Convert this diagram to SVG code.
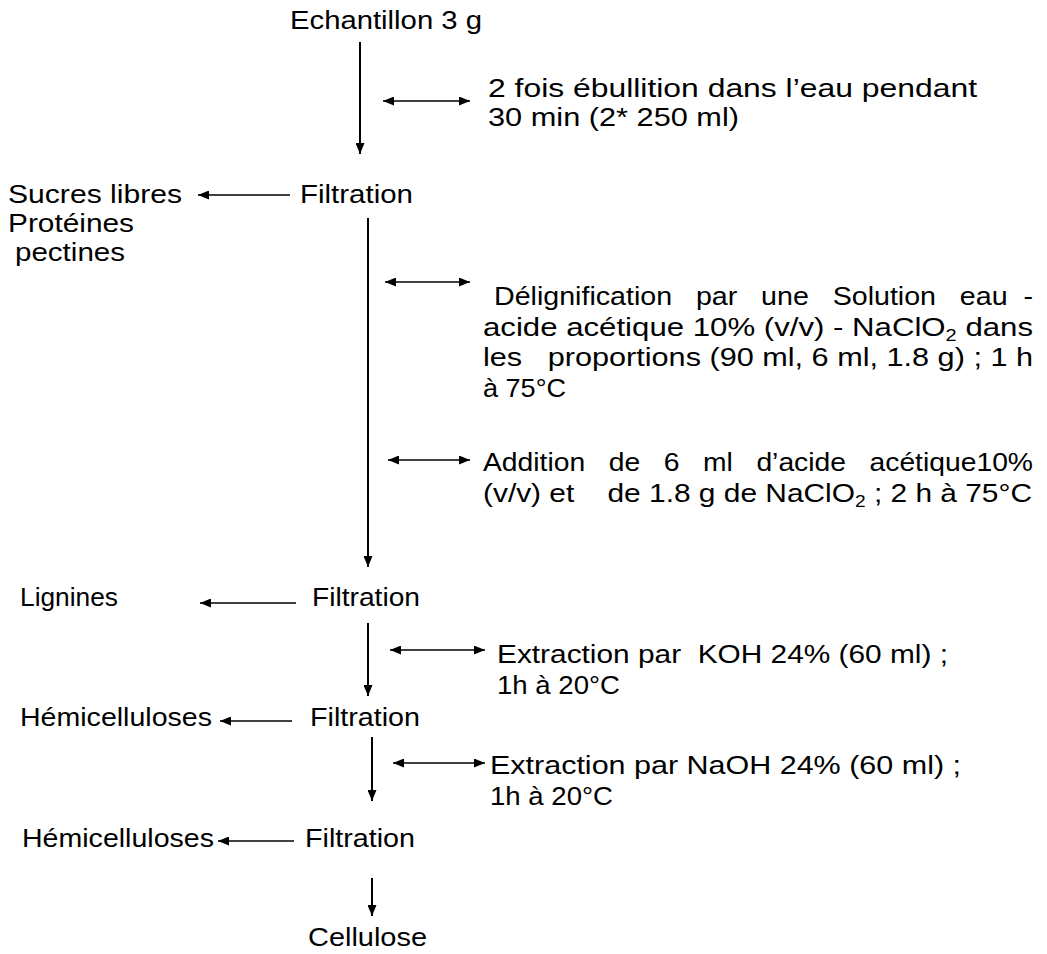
<svg xmlns="http://www.w3.org/2000/svg" width="1047" height="954" viewBox="0 0 1047 954">
<style>
text{font-family:"Liberation Sans",Arial,sans-serif;font-size:25px;fill:#000}
.sub{font-size:16px}
.v{stroke:#000;stroke-width:2;fill:none}
.h{stroke:#000;stroke-width:1.5;fill:none}
</style>
<defs>
<marker id="ah" viewBox="0 0 11 9" refX="11" refY="4.5" markerWidth="11" markerHeight="9" markerUnits="userSpaceOnUse" orient="auto-start-reverse">
<path d="M0,0 L11,4.5 L0,9 Z" fill="#000"/>
</marker>
</defs>
<rect width="1047" height="954" fill="#fff"/>
<g id="connectors">
<line class="v" x1="360" y1="42" x2="360" y2="154" marker-end="url(#ah)"/>
<line class="v" x1="368" y1="218" x2="368" y2="567" marker-end="url(#ah)"/>
<line class="v" x1="368" y1="623" x2="368" y2="696" marker-end="url(#ah)"/>
<line class="v" x1="372" y1="737" x2="372" y2="801" marker-end="url(#ah)"/>
<line class="v" x1="372" y1="878" x2="372" y2="916" marker-end="url(#ah)"/>
<line class="h" x1="290" y1="195" x2="198" y2="195" marker-end="url(#ah)"/>
<line class="h" x1="296" y1="603" x2="200" y2="603" marker-end="url(#ah)"/>
<line class="h" x1="292" y1="721" x2="220" y2="721" marker-end="url(#ah)"/>
<line class="h" x1="294" y1="841" x2="218" y2="841" marker-end="url(#ah)"/>
<line class="h" x1="383" y1="101" x2="470" y2="101" marker-start="url(#ah)" marker-end="url(#ah)"/>
<line class="h" x1="385" y1="282" x2="470" y2="282" marker-start="url(#ah)" marker-end="url(#ah)"/>
<line class="h" x1="388" y1="460" x2="470" y2="460" marker-start="url(#ah)" marker-end="url(#ah)"/>
<line class="h" x1="390" y1="650" x2="485" y2="650" marker-start="url(#ah)" marker-end="url(#ah)"/>
<line class="h" x1="393" y1="763" x2="485" y2="763" marker-start="url(#ah)" marker-end="url(#ah)"/>
</g>
<g id="echantillon"><text x="290" y="29" textLength="192" lengthAdjust="spacingAndGlyphs">Echantillon 3 g</text></g>
<g id="ebullition">
<text x="488" y="97" textLength="489" lengthAdjust="spacingAndGlyphs">2 fois ébullition dans l’eau pendant</text>
<text x="488" y="126" textLength="251" lengthAdjust="spacingAndGlyphs">30 min (2* 250 ml)</text>
</g>
<g id="filtration1"><text x="300" y="203" textLength="113" lengthAdjust="spacingAndGlyphs">Filtration</text></g>
<g id="sucres">
<text x="8" y="203" textLength="174" lengthAdjust="spacingAndGlyphs">Sucres libres</text>
<text x="8" y="232" textLength="126" lengthAdjust="spacingAndGlyphs">Protéines</text>
<text x="15" y="261" textLength="110" lengthAdjust="spacingAndGlyphs">pectines</text>
</g>
<g id="delignification">
<text x="494" y="305" textLength="539" lengthAdjust="spacingAndGlyphs">Délignification&#160;&#160;&#160;par&#160;&#160;&#160;une&#160;&#160;&#160;Solution&#160;&#160;&#160;eau&#160;&#160;-</text>
<text x="483" y="336" textLength="550" lengthAdjust="spacingAndGlyphs">acide acétique 10% (v/v) - NaClO<tspan class="sub" dy="5">2</tspan><tspan dy="-5"> dans</tspan></text>
<text x="483" y="366" textLength="550" lengthAdjust="spacingAndGlyphs">les&#160;&#160; proportions (90 ml, 6 ml, 1.8 g) ; 1 h</text>
<text x="483" y="397" textLength="83" lengthAdjust="spacingAndGlyphs">à 75°C</text>
</g>
<g id="addition">
<text x="483" y="471" textLength="550" lengthAdjust="spacingAndGlyphs">Addition&#160;&#160; de&#160;&#160; 6&#160;&#160; ml&#160;&#160; d’acide&#160;&#160; acétique10%</text>
<text x="483" y="502" textLength="549" lengthAdjust="spacingAndGlyphs">(v/v) et&#160;&#160;&#160; de 1.8 g de NaClO<tspan class="sub" dy="5">2</tspan><tspan dy="-5"> ; 2 h à 75°C</tspan></text>
</g>
<g id="filtration2"><text x="312" y="606" textLength="108" lengthAdjust="spacingAndGlyphs">Filtration</text></g>
<g id="lignines"><text x="20" y="606" textLength="98" lengthAdjust="spacingAndGlyphs">Lignines</text></g>
<g id="koh">
<text x="497" y="663" textLength="451" lengthAdjust="spacingAndGlyphs">Extraction par&#160; KOH 24% (60 ml) ;</text>
<text x="497" y="694" textLength="123" lengthAdjust="spacingAndGlyphs">1h à 20°C</text>
</g>
<g id="filtration3"><text x="310" y="726" textLength="110" lengthAdjust="spacingAndGlyphs">Filtration</text></g>
<g id="hemi1"><text x="20" y="726" textLength="192" lengthAdjust="spacingAndGlyphs">Hémicelluloses</text></g>
<g id="naoh">
<text x="490" y="774" textLength="471" lengthAdjust="spacingAndGlyphs">Extraction par NaOH 24% (60 ml) ;</text>
<text x="490" y="805" textLength="123" lengthAdjust="spacingAndGlyphs">1h à 20°C</text>
</g>
<g id="filtration4"><text x="305" y="847" textLength="110" lengthAdjust="spacingAndGlyphs">Filtration</text></g>
<g id="hemi2"><text x="22" y="847" textLength="192" lengthAdjust="spacingAndGlyphs">Hémicelluloses</text></g>
<g id="cellulose"><text x="308" y="946" textLength="119" lengthAdjust="spacingAndGlyphs">Cellulose</text></g>
</svg>
